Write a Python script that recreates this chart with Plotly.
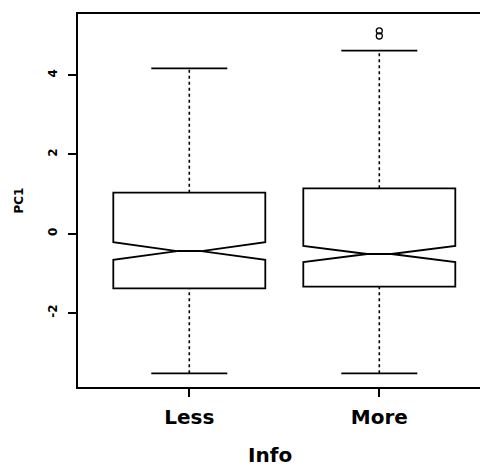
import plotly.graph_objects as go

# ---- data ----
categories = ["Less", "More"]
positions = [1, 2]
q1 = [-1.378, -1.338]
median = [-0.437, -0.512]
q3 = [1.035, 1.146]
lower_whisker = [-3.523, -3.523]
upper_whisker = [4.175, 4.619]
notch_half = [0.222, 0.202]
outlier_x = [2, 2]
outlier_y = [5.12, 4.99]

y_tickvals = [-2, 0, 2, 4]
y_ticktext = ["-2", "0", "2", "4"]

BOX_W = 0.8
CAP_HALF = BOX_W * 0.25

fig = go.Figure()

# notched boxes (no whiskers: fences at the hinges)
fig.add_trace(go.Box(
    x=positions, q1=q1, median=median, q3=q3,
    lowerfence=q1, upperfence=q3,
    notched=True, notchspan=notch_half, notchwidth=0.42,
    width=BOX_W, whiskerwidth=0,
    fillcolor="rgba(0,0,0,0)",
    line=dict(color="black", width=1.8),
    boxpoints=False, showlegend=False, hoverinfo="skip",
))

# dashed whiskers
for p, lo, a, b, hi in zip(positions, lower_whisker, q1, q3, upper_whisker):
    fig.add_trace(go.Scatter(
        x=[p, p, None, p, p], y=[lo, a, None, b, hi], mode="lines",
        line=dict(color="black", width=1.6, dash="3px,3px"),
        showlegend=False, hoverinfo="skip",
    ))
    # staples
    fig.add_trace(go.Scatter(
        x=[p - CAP_HALF, p + CAP_HALF, None, p - CAP_HALF, p + CAP_HALF],
        y=[lo, lo, None, hi, hi], mode="lines",
        line=dict(color="black", width=1.8),
        showlegend=False, hoverinfo="skip",
    ))

# outliers
fig.add_trace(go.Scatter(
    x=outlier_x, y=outlier_y, mode="markers",
    marker=dict(symbol="circle-open", size=6, color="black", line=dict(width=1.3)),
    showlegend=False, hoverinfo="skip",
))

fig.update_layout(
    width=480, height=469,
    margin=dict(l=78, r=0, t=14, b=82),
    paper_bgcolor="white", plot_bgcolor="white",
    xaxis=dict(
        range=[0.4142, 2.530],
        tickvals=positions, ticktext=categories,
        tickfont=dict(family="DejaVu Sans", size=20, color="black", weight="bold"),
        ticks="outside", ticklen=8, tickwidth=1.8, tickcolor="black",
        ticklabelstandoff=3,
        showline=True, linecolor="black", linewidth=2, mirror=True,
        showgrid=False, zeroline=False,
    ),
    yaxis=dict(
        range=[-3.869, 5.545],
        tickvals=y_tickvals, ticktext=y_ticktext, tickangle=-90,
        tickfont=dict(family="DejaVu Sans", size=12, color="black", weight="bold"),
        ticks="outside", ticklen=8, tickwidth=1.8, tickcolor="black",
        ticklabelstandoff=6,
        showline=True, linecolor="black", linewidth=2, mirror=False,
        showgrid=False, zeroline=False,
        title=dict(text="PC1", font=dict(family="DejaVu Sans", size=12, color="black", weight="bold"), standoff=20),
    ),
    annotations=[dict(
        text="Info", xref="paper", yref="paper", x=0.477, y=-0.181,
        xanchor="center", yanchor="middle", showarrow=False,
        font=dict(family="DejaVu Sans", size=20, color="black", weight="bold"),
    )],
)

fig.write_html("out.html")
